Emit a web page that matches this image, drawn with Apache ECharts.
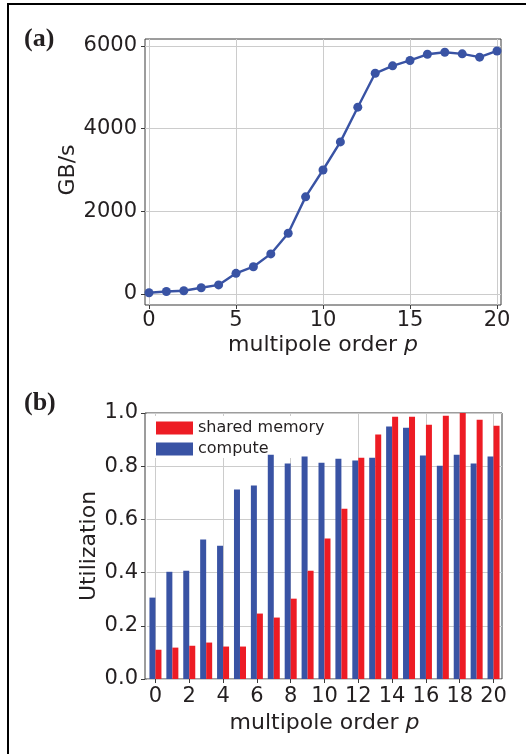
<!DOCTYPE html>
<html>
<head>
<meta charset="utf-8">
<title>multipole order</title>
<script src="https://cdn.jsdelivr.net/npm/echarts@6.0.0/dist/echarts.min.js"></script>
<style>
  html, body { margin: 0; padding: 0; background: #fff; }
  #chart { width: 526px; height: 754px; }
</style>
</head>
<body>
<div id="chart"></div>
<script>
// multipole order p (x of both panels)
const orders = [0, 1, 2, 3, 4, 5, 6, 7, 8, 9, 10, 11, 12, 13, 14, 15, 16, 17, 18, 19, 20]
// (a) bandwidth in GB/s
const bandwidth = [30, 60, 80, 150, 220, 500, 660, 970, 1470, 2350, 3000, 3680, 4520, 5340, 5520, 5650, 5800, 5850, 5810, 5730, 5880]
// (b) utilization
const sharedMemory = [0.110, 0.118, 0.125, 0.137, 0.122, 0.122, 0.246, 0.231, 0.302, 0.407, 0.528, 0.640, 0.832, 0.919, 0.986, 0.986, 0.956, 0.990, 1.0, 0.975, 0.952]
const compute = [0.306, 0.403, 0.407, 0.524, 0.501, 0.712, 0.727, 0.843, 0.810, 0.836, 0.813, 0.828, 0.821, 0.832, 0.949, 0.945, 0.840, 0.802, 0.843, 0.810, 0.836]

const FONT = 'DejaVu Sans'
const TEXT = '#231f20'
const GRID_LINE = '#cccccc'
const FRAME = '#3a3a3a'
const BLUE = '#3953a4'
const RED = '#ed1c24'

const chart = echarts.init(document.getElementById('chart'))

const hidden = (gridIndex, type) => ({ type: type || 'value', gridIndex: gridIndex, show: false, min: 0, max: 1 })
const label = (margin) => ({ color: TEXT, fontFamily: FONT, fontSize: 21, margin: margin })
const tick = { show: true, length: 4, lineStyle: { color: FRAME, width: 1 } }
const split = { show: true, lineStyle: { color: GRID_LINE, width: 1 } }
const nameStyle = {
    color: TEXT,
    fontFamily: FONT,
    fontSize: 22,
    rich: { i: { fontFamily: FONT, fontSize: 22, fontStyle: 'italic', color: TEXT } }
}

const option = {
    backgroundColor: '#fff',
    animation: false,
    grid: [
        // (a) frame, horizontal lines, vertical lines, data
        { left: 145, right: 25, top: 39, bottom: 449, show: true, borderColor: FRAME, borderWidth: 1, backgroundColor: 'transparent' },
        { left: 145, right: 25, top: 46, bottom: 460 },
        { left: 149, right: 29, top: 39, bottom: 449 },
        { left: 149, right: 29, top: 46, bottom: 460 },
        // (b) frame, bars, vertical lines
        { left: 145, right: 24, top: 413, bottom: 75, show: true, borderColor: FRAME, borderWidth: 1, backgroundColor: 'transparent' },
        { left: 147, right: 24, top: 413, bottom: 75 },
        { left: 155.5, right: 32.4, top: 413, bottom: 75 }
    ],
    xAxis: [
        hidden(0),
        hidden(1),
        {
            type: 'value', gridIndex: 2, min: 0, max: 20, interval: 5,
            axisLine: { show: false }, axisTick: tick, splitLine: split,
            axisLabel: label(5),
            name: 'multipole order {i|p}', nameLocation: 'middle', nameGap: 29, nameTextStyle: nameStyle,
            nameMoveOverlap: false
        },
        { type: 'value', gridIndex: 3, min: 0, max: 20, show: false },
        hidden(4),
        {
            type: 'category', gridIndex: 5, data: orders.map(String),
            axisLine: { show: false },
            axisTick: { show: true, length: 4, alignWithLabel: true, interval: 1, lineStyle: { color: FRAME } },
            axisLabel: Object.assign(label(7), { interval: 1 }),
            splitLine: { show: false },
            name: 'multipole order {i|p}', nameLocation: 'middle', nameGap: 33, nameTextStyle: nameStyle,
            nameMoveOverlap: false
        },
        {
            type: 'value', gridIndex: 6, min: 0, max: 20, interval: 4,
            axisLine: { show: false }, axisTick: { show: false }, axisLabel: { show: false },
            splitLine: split
        }
    ],
    yAxis: [
        hidden(0),
        {
            type: 'value', gridIndex: 1, min: 0, max: 6000, interval: 2000,
            axisLine: { show: false }, axisTick: tick, splitLine: split,
            axisLabel: Object.assign(label(8), { formatter: v => String(v) }),
            name: 'GB/s', nameLocation: 'middle', nameGap: 66, nameTextStyle: nameStyle,
            nameMoveOverlap: false
        },
        hidden(2),
        { type: 'value', gridIndex: 3, min: 0, max: 6000, show: false },
        hidden(4),
        {
            type: 'value', gridIndex: 5, min: 0, max: 1, interval: 0.2, offset: 2,
            axisLine: { show: false }, axisTick: tick, splitLine: split,
            axisLabel: Object.assign(label(7), { formatter: v => v.toFixed(1) }),
            name: 'Utilization', nameLocation: 'middle', nameGap: 45, nameTextStyle: nameStyle,
            nameMoveOverlap: false
        },
        hidden(6)
    ],
    legend: {
        data: ['shared memory', 'compute'],
        orient: 'vertical',
        left: 151,
        top: 416,
        z: 1,
        icon: 'rect',
        itemWidth: 37,
        itemHeight: 13,
        itemGap: 5,
        padding: [4, 5, 1, 5],
        backgroundColor: '#fff',
        textStyle: { color: TEXT, fontFamily: FONT, fontSize: 16, lineHeight: 16 }
    },
    series: [
        {
            name: 'bandwidth',
            type: 'line',
            xAxisIndex: 3,
            yAxisIndex: 3,
            data: orders.map((p, i) => [p, bandwidth[i]]),
            symbol: 'circle',
            symbolSize: 9,
            clip: false,
            lineStyle: { color: BLUE, width: 2.4 },
            itemStyle: { color: BLUE }
        },
        {
            name: 'compute',
            type: 'bar',
            xAxisIndex: 5,
            yAxisIndex: 5,
            data: compute,
            barWidth: 6,
            barGap: '0%',
            itemStyle: { color: BLUE }
        },
        {
            name: 'shared memory',
            type: 'bar',
            xAxisIndex: 5,
            yAxisIndex: 5,
            data: sharedMemory,
            barWidth: 6,
            barGap: '0%',
            itemStyle: { color: RED }
        }
    ],
    graphic: [
        // outer figure border (top and left only)
        { type: 'rect', left: 7, top: 3, shape: { width: 519, height: 2 }, style: { fill: '#000' } },
        { type: 'rect', left: 7, top: 3, shape: { width: 2, height: 751 }, style: { fill: '#000' } },
        { type: 'text', left: 24, top: 26, style: { text: '(a)', fill: TEXT, font: 'bold 26px "Liberation Serif"' } },
        { type: 'text', left: 24, top: 390, style: { text: '(b)', fill: TEXT, font: 'bold 26px "Liberation Serif"' } }
    ]
}

chart.setOption(option)
</script>
</body>
</html>
